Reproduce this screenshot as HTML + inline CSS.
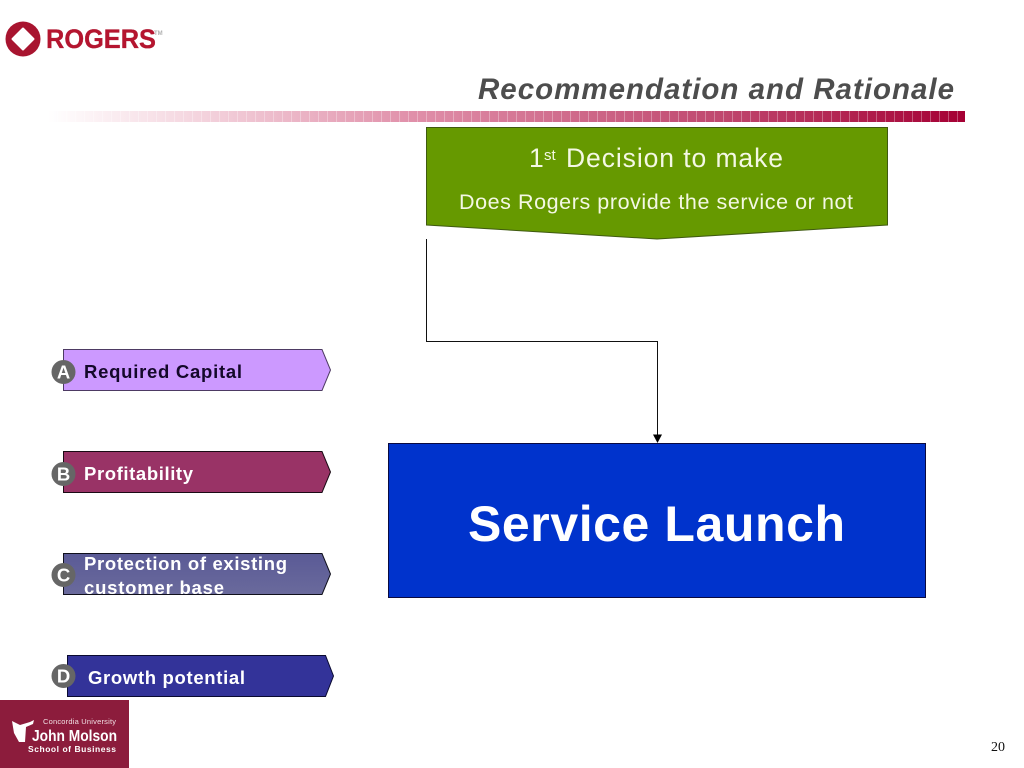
<!DOCTYPE html>
<html>
<head>
<meta charset="utf-8">
<style>
html,body{margin:0;padding:0;background:#fff;width:1024px;height:768px;overflow:hidden}
svg{display:block}
text{font-family:"Liberation Sans",sans-serif}
</style>
</head>
<body>
<svg width="1024" height="768" viewBox="0 0 1024 768" xmlns="http://www.w3.org/2000/svg">
<defs>
<linearGradient id="bar" x1="0" x2="1" y1="0" y2="0">
<stop offset="0" stop-color="#ffffff"/>
<stop offset="0.15" stop-color="#f5d8e1"/>
<stop offset="0.4" stop-color="#e08fa9"/>
<stop offset="0.73" stop-color="#c0486f"/>
<stop offset="1" stop-color="#a50034"/>
</linearGradient>
<pattern id="ticks" x="48" y="0" width="9" height="20" patternUnits="userSpaceOnUse">
<rect x="0" y="0" width="1" height="20" fill="#ffffff" fill-opacity="0.3"/>
</pattern>
<linearGradient id="cgrad" x1="0" x2="0" y1="0" y2="1">
<stop offset="0" stop-color="#5a5a96"/>
<stop offset="1" stop-color="#6a6a9c"/>
</linearGradient>
</defs>

<!-- Rogers logo -->
<circle cx="23" cy="39" r="17.5" fill="#a8142f"/>
<polygon points="23,28.5 33.5,39 23,49.5 12.5,39" fill="#fff" stroke="#fff" stroke-width="2" stroke-linejoin="round"/>
<text x="46" y="48" font-size="27" font-weight="bold" fill="#b5152f" stroke="#a8142f" stroke-width="0.3" textLength="110" lengthAdjust="spacingAndGlyphs">ROGERS</text>
<text x="154" y="35" font-size="6" font-weight="bold" fill="#b0b0b0">TM</text>

<!-- Title -->
<text x="478" y="99" font-size="29.5" font-weight="bold" font-style="italic" fill="#4d4d4d" textLength="476" lengthAdjust="spacing">Recommendation and Rationale</text>

<!-- Gradient bar -->
<rect x="48" y="111" width="917" height="11" fill="url(#bar)"/>
<rect x="48" y="111" width="917" height="11" fill="url(#ticks)"/>

<!-- Green box -->
<polygon points="426.5,127.5 887.5,127.5 887.5,225 657,239 426.5,225" fill="#669900" stroke="#3f5a10" stroke-width="1"/>
<text x="529" y="167" font-size="26.5" fill="#f4f8e4">1</text>
<text x="544" y="160" font-size="15" fill="#f4f8e4">st</text>
<text x="566" y="167" font-size="26.5" fill="#f4f8e4" textLength="217" lengthAdjust="spacing">Decision to make</text>
<text x="459" y="209" font-size="21.5" fill="#f4f8e4" textLength="394" lengthAdjust="spacing">Does Rogers provide the service or not</text>

<!-- Connector -->
<polyline points="426.5,239 426.5,341.5 657.5,341.5 657.5,436" fill="none" stroke="#111" stroke-width="1"/>
<polygon points="653,434.5 662,434.5 657.5,443" fill="#000"/>

<!-- Blue box -->
<rect x="388.5" y="443.5" width="537" height="154" fill="#0033cc" stroke="#0a0a40" stroke-width="1"/>
<text x="468" y="541" font-size="50" font-weight="bold" fill="#ffffff" textLength="377" lengthAdjust="spacing">Service Launch</text>

<!-- Chevron A -->
<polygon points="63.5,349.5 322,349.5 330.5,370 322,390.5 63.5,390.5" fill="#cc99ff" stroke="#4d3a63" stroke-width="1"/>
<circle cx="63.5" cy="372" r="12" fill="#666666"/>
<text x="63.5" y="378.5" font-size="18.5" font-weight="bold" fill="#fff" text-anchor="middle">A</text>
<text x="84" y="378" font-size="18.5" font-weight="bold" fill="#14082a" textLength="158" lengthAdjust="spacing">Required Capital</text>

<!-- Chevron B -->
<polygon points="63.5,451.5 322,451.5 330.5,472 322,492.5 63.5,492.5" fill="#993366" stroke="#1a0a14" stroke-width="1"/>
<circle cx="63.5" cy="474" r="12" fill="#666666"/>
<text x="63.5" y="480.5" font-size="18.5" font-weight="bold" fill="#fff" text-anchor="middle">B</text>
<text x="84" y="480" font-size="18.5" font-weight="bold" fill="#ffffff" textLength="109" lengthAdjust="spacing">Profitability</text>

<!-- Chevron C -->
<polygon points="63.5,553.5 322,553.5 330.5,574 322,594.5 63.5,594.5" fill="url(#cgrad)" stroke="#10101c" stroke-width="1"/>
<circle cx="63.5" cy="575" r="12" fill="#666666"/>
<text x="63.5" y="581.5" font-size="18.5" font-weight="bold" fill="#fff" text-anchor="middle">C</text>
<text x="84" y="570" font-size="18.5" font-weight="bold" fill="#ffffff" textLength="203" lengthAdjust="spacing">Protection of existing</text>
<text x="84" y="594" font-size="18.5" font-weight="bold" fill="#ffffff" textLength="140" lengthAdjust="spacing">customer base</text>

<!-- Chevron D -->
<polygon points="67.5,655.5 325.5,655.5 333.5,676 325.5,696.5 67.5,696.5" fill="#333399" stroke="#0a0a30" stroke-width="1"/>
<circle cx="63.5" cy="676" r="12" fill="#666666"/>
<text x="63.5" y="682.5" font-size="18.5" font-weight="bold" fill="#fff" text-anchor="middle">D</text>
<text x="88" y="684" font-size="18.5" font-weight="bold" fill="#ffffff" textLength="157" lengthAdjust="spacing">Growth potential</text>

<!-- Molson logo -->
<rect x="0" y="700" width="129" height="68" fill="#8c1c3c"/>
<polygon points="12,721 20,725 30,722 34,720 33,724 26,727 25,742 19,742 14,733" fill="#fff"/>
<text x="43" y="724" font-size="7.5" fill="#f0dfe3" textLength="73" lengthAdjust="spacing">Concordia University</text>
<text x="32" y="741" font-size="15.5" font-weight="bold" fill="#fff" textLength="85" lengthAdjust="spacingAndGlyphs">John Molson</text>
<text x="28" y="752" font-size="8.5" font-weight="bold" fill="#fff" textLength="88" lengthAdjust="spacing">School of Business</text>

<!-- Page number -->
<text x="991" y="751" font-size="14" fill="#111" style="font-family:'Liberation Serif',serif">20</text>
</svg>
</body>
</html>
